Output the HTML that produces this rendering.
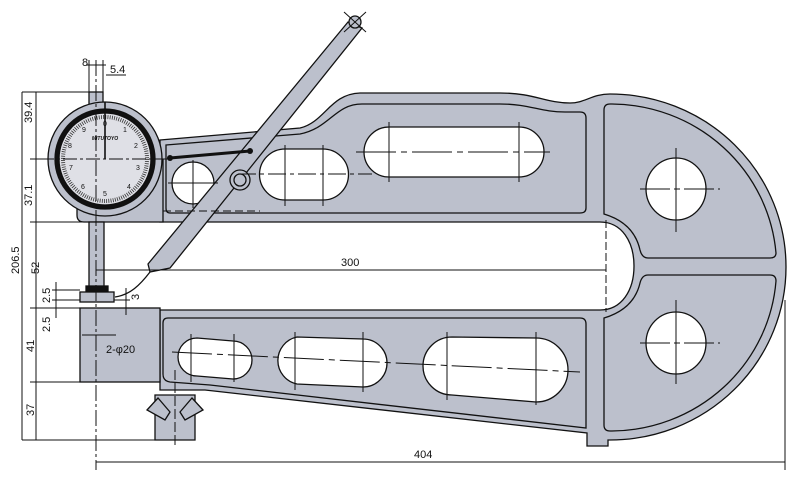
<!DOCTYPE html>
<html><head><meta charset="utf-8"><style>
html,body{margin:0;padding:0;background:#fff;}
svg{display:block;font-family:"Liberation Sans",sans-serif;}
</style></head><body>
<svg width="793" height="478" viewBox="0 0 793 478" xmlns="http://www.w3.org/2000/svg">
<g stroke="#111" stroke-width="1.3" fill="#bcc0cc">
<path d="M160,140 L300,128 C325,122 330,94 360,93 L500,93 C535,93 545,103 570,103 C585,103 592,94 610,94 A176,173 0 0 1 610,440 L608,440 L608,446 L587,446 L587,433 L205,390 L160,390 L160,310 L600,310 C622,310 634,290 634,266 C634,242 622,222 600,222 L160,222 Z"/>
<rect x="80" y="308" width="80" height="74"/>
<path d="M166,145 L300,134 C330,128 335,104 362,104 L500,104 C530,104 540,112 565,112 L580,112 Q586,112 586,118 L586,208 Q586,213 580,213 L170,213 Q166,213 166,208 Z" fill="none"/>
<path d="M610,104 L612,104 A166,163 0 0 1 776,253 Q776,258 770,258 L648,258 Q642,258 640,250 C636,232 624,220 604,214 L604,110 Q604,104 610,104 Z" fill="none"/>
<path d="M648,275 L770,275 Q776,275 776,281 A166,163 0 0 1 612,431 L610,431 Q604,431 604,425 L604,318 C624,312 636,300 640,283 Q642,275 648,275 Z" fill="none"/>
<path d="M168,318 L580,318 Q586,318 586,324 L586,428 L210,385 L170,382 Q163,381 163,374 L163,323 Q163,318 168,318 Z" fill="none"/>
<g fill="#fff">
<circle cx="193" cy="183" r="21"/>
<path d="M285,149 L323,149 A25.5,25.5 0 0 1 323,200 L285,200 A25.5,25.5 0 0 1 285,149 Z"/>
<path d="M389,127 L519,127 A25,25 0 0 1 519,177 L389,177 A25,25 0 0 1 389,127 Z"/>
<ellipse cx="676" cy="189" rx="30" ry="31"/>
<ellipse cx="676" cy="343" rx="30" ry="31"/>
<path d="M197,338 L233,341 A19,19 0 0 1 233,379 L197,376 A19,19 0 0 1 197,338 Z"/>
<path d="M297,337 L363,339 A24,24 0 0 1 363,387 L297,384 A24,24 0 0 1 297,337 Z"/>
<path d="M452,337 L536,338 A32,32 0 0 1 536,402 L452,395 A29,29 0 0 1 452,337 Z"/>
</g>
<path d="M155,395 L195,395 L195,440 L155,440 Z"/>
<path d="M147,410 L158,398 L170,412 L165,420 Z"/>
<path d="M203,410 L192,398 L180,412 L185,420 Z"/>
<path d="M77,160 L77,215 Q77,222 84,222 L163,222 L163,160 Z"/>
<rect x="89" y="92" width="14" height="16"/>
<circle cx="105" cy="159" r="57"/>
<circle cx="105" cy="159" r="50" fill="#111"/>
<circle cx="105" cy="159" r="46" fill="#dfe0e6"/>
<circle cx="105" cy="159" r="42" fill="none" stroke="#333" stroke-width="4" stroke-dasharray="0.8,1.4"/>
<rect x="89" y="222" width="15" height="68"/>
<rect x="86" y="286" width="22" height="6" fill="#111"/>
<rect x="80" y="292" width="34" height="10"/>
<path d="M348,22 L362,28 L170,268 L150,272 L148,264 Z"/>
<circle cx="355" cy="22" r="6"/>
<circle cx="240" cy="180" r="10"/>
<circle cx="240" cy="180" r="6" fill="none"/>
<path d="M150,272 C140,285 130,295 115,297" fill="none"/>
</g>
<g stroke="#111" stroke-width="1"><line x1="344" y1="12" x2="366" y2="32"/><line x1="366" y1="12" x2="344" y2="32"/></g>
<line x1="170" y1="158" x2="250" y2="151" stroke="#111" stroke-width="3"/>
<circle cx="170" cy="158" r="3" fill="#111"/>
<circle cx="250" cy="151" r="3" fill="#111"/>
<g font-size="7" fill="#111" text-anchor="middle">
<text x="105" y="126">0</text><text x="125" y="132">1</text><text x="136" y="148">2</text>
<text x="138" y="170">3</text><text x="129" y="189">4</text><text x="105" y="196">5</text>
<text x="83" y="189">6</text><text x="71" y="170">7</text><text x="70" y="148">8</text><text x="84" y="132">9</text>
<text x="105" y="140" font-size="5" font-style="italic" font-weight="bold">MITUTOYO</text>
</g>
<g stroke="#111" stroke-width="1" fill="none">
<line x1="105" y1="102" x2="105" y2="159" stroke-width="1.6"/>
<line x1="40" y1="159" x2="170" y2="159" stroke-dasharray="14,3,3,3"/>
<line x1="96" y1="60" x2="96" y2="470" stroke-dasharray="16,3,3,3"/>
<line x1="168" y1="183" x2="218" y2="183"/><line x1="193" y1="160" x2="193" y2="208"/>
<line x1="238" y1="174" x2="372" y2="174" stroke-dasharray="18,4,4,4"/>
<line x1="285" y1="145" x2="285" y2="206"/><line x1="323" y1="145" x2="323" y2="206"/>
<line x1="356" y1="152" x2="550" y2="152" stroke-dasharray="40,5,6,5"/>
<line x1="389" y1="122" x2="389" y2="182"/><line x1="519" y1="122" x2="519" y2="182"/>
<line x1="640" y1="189" x2="720" y2="189" stroke-dasharray="30,4,6,4"/><line x1="676" y1="148" x2="676" y2="232"/>
<line x1="640" y1="343" x2="720" y2="343" stroke-dasharray="30,4,6,4"/><line x1="676" y1="300" x2="676" y2="384"/>
<line x1="172" y1="352" x2="580" y2="372" stroke-dasharray="40,5,6,5"/>
<line x1="191" y1="334" x2="191" y2="382"/><line x1="234" y1="334" x2="234" y2="382"/>
<line x1="295" y1="332" x2="295" y2="390"/><line x1="363" y1="332" x2="363" y2="392"/>
<line x1="447" y1="332" x2="447" y2="400"/><line x1="536" y1="332" x2="536" y2="405"/>
<line x1="175" y1="370" x2="175" y2="445" stroke-dasharray="10,3"/>
<line x1="606" y1="220" x2="606" y2="312" stroke-dasharray="8,3"/>
<line x1="163" y1="211" x2="260" y2="211" stroke-dasharray="8,4"/>
<line x1="22" y1="92" x2="22" y2="440"/>
<line x1="36" y1="92" x2="36" y2="440"/>
<line x1="22" y1="92" x2="96" y2="92"/>
<line x1="30" y1="159" x2="48" y2="159"/>
<line x1="30" y1="222" x2="90" y2="222"/>
<line x1="30" y1="308" x2="80" y2="308"/>
<line x1="30" y1="382" x2="80" y2="382"/>
<line x1="22" y1="440" x2="160" y2="440"/>
<line x1="52" y1="290" x2="80" y2="290"/>
<line x1="52" y1="300" x2="80" y2="300"/>
<line x1="56" y1="282" x2="56" y2="318"/>
<line x1="114" y1="300" x2="130" y2="300"/>
<line x1="126" y1="288" x2="126" y2="315"/>
<line x1="89" y1="60" x2="89" y2="92"/><line x1="103" y1="60" x2="103" y2="92"/>
<line x1="106" y1="75" x2="126" y2="75"/>
<line x1="86" y1="65" x2="106" y2="65"/>
<line x1="96" y1="270" x2="606" y2="270"/>
<line x1="96" y1="462" x2="785" y2="462"/>
<line x1="785" y1="300" x2="785" y2="470"/>
<line x1="82" y1="335" x2="116" y2="335"/>
</g>
<g font-size="11" fill="#111">
<text x="341" y="266">300</text>
<text x="414" y="458">404</text>
<text x="82" y="66">8</text>
<text x="110" y="73">5.4</text>
<text x="106" y="353">2-φ20</text>
<text transform="translate(32,123) rotate(-90)">39.4</text>
<text transform="translate(32,206) rotate(-90)">37.1</text>
<text transform="translate(19,274) rotate(-90)">206.5</text>
<text transform="translate(39,274) rotate(-90)">52</text>
<text transform="translate(50,303) rotate(-90)">2.5</text>
<text transform="translate(50,332) rotate(-90)">2.5</text>
<text transform="translate(139,300) rotate(-90)">3</text>
<text transform="translate(34,352) rotate(-90)">41</text>
<text transform="translate(34,416) rotate(-90)">37</text>
</g>
</svg>
</body></html>
